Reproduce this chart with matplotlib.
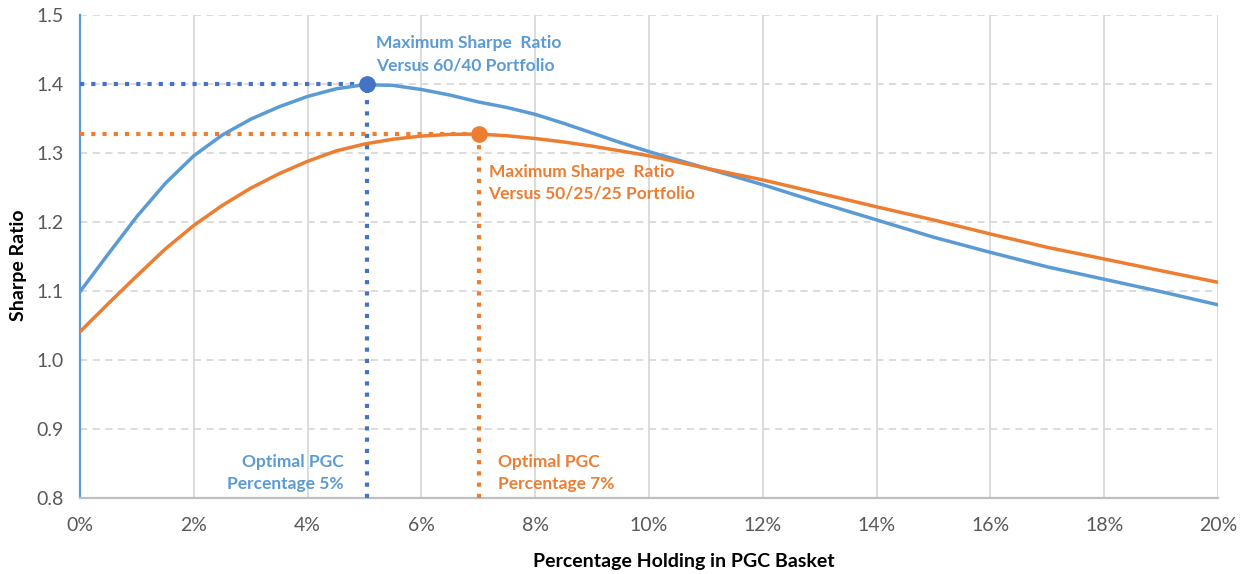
import matplotlib
matplotlib.use("Agg")
import matplotlib.pyplot as plt
from matplotlib.ticker import FuncFormatter

# ---- data ----
holding_pct = [0, 0.5, 1, 1.5, 2, 2.5, 3, 3.5, 4, 4.5, 5, 5.5, 6, 6.5, 7, 7.5, 8, 8.5, 9, 9.5,
               10, 11, 12, 13, 14, 15, 16, 17, 18, 19, 20]
sharpe_6040 = [1.099, 1.154, 1.208, 1.256, 1.296, 1.326, 1.349, 1.367, 1.382, 1.393, 1.399,
               1.398, 1.392, 1.384, 1.374, 1.366, 1.356, 1.343, 1.329, 1.315,
               1.302, 1.278, 1.254, 1.228, 1.203, 1.178, 1.156, 1.135, 1.117, 1.099, 1.080]
sharpe_502525 = [1.041, 1.082, 1.122, 1.161, 1.195, 1.224, 1.249, 1.270, 1.288, 1.303, 1.313,
                 1.320, 1.3245, 1.327, 1.3275, 1.325, 1.321, 1.316, 1.310, 1.303,
                 1.296, 1.278, 1.261, 1.2416, 1.222, 1.203, 1.1826, 1.1633, 1.1464, 1.1294, 1.1126]
opt_6040 = (5.05, 1.40)
opt_502525 = (7.02, 1.3275)
x_ticks = [0, 2, 4, 6, 8, 10, 12, 14, 16, 18, 20]
y_ticks = [0.8, 0.9, 1.0, 1.1, 1.2, 1.3, 1.4, 1.5]

BLUE = "#5B9BD5"
DBLUE = "#4472C4"
ORANGE = "#ED7D31"
GRID = "#D9D9D9"
TICKC = "#595959"

plt.rcParams['font.family'] = ['Lato', 'DejaVu Sans']

fig = plt.figure(figsize=(12.4, 5.74), dpi=100)
ax = fig.add_axes([80/1240, 76/574, 1138/1240, 483/574])

ax.set_xlim(0, 20)
ax.set_ylim(0.8, 1.5)
ax.set_xticks(x_ticks)
ax.set_yticks(y_ticks)
ax.xaxis.set_major_formatter(FuncFormatter(lambda v, p: f"{int(round(v))}%"))
ax.yaxis.set_major_formatter(FuncFormatter(lambda v, p: f"{v:.1f}"))

# grid
for yv in y_ticks[1:]:
    ax.axhline(yv, color=GRID, lw=1.3, ls=(0, (4, 3)), zorder=0)
for xv in x_ticks[1:]:
    ax.axvline(xv, color=GRID, lw=1.3, zorder=0)

for s in ["top", "right"]:
    ax.spines[s].set_visible(False)
ax.spines["left"].set_color(BLUE)
ax.spines["left"].set_linewidth(1.6)
ax.spines["bottom"].set_color("#BFBFBF")
ax.spines["bottom"].set_linewidth(1.6)
ax.tick_params(length=0, labelsize=14, colors=TICKC, pad=14)
ax.tick_params(axis="y", pad=12)

# dotted reference lines
dot = (0, (1, 1.7))
ax.plot([0, opt_6040[0]], [opt_6040[1], opt_6040[1]], color=DBLUE, lw=3.0, ls=dot, zorder=3)
ax.plot([opt_6040[0], opt_6040[0]], [0.8, opt_6040[1]], color=DBLUE, lw=3.0, ls=dot, zorder=3)
ax.plot([0, opt_502525[0]], [opt_502525[1], opt_502525[1]], color=ORANGE, lw=3.0, ls=dot, zorder=3)
ax.plot([opt_502525[0], opt_502525[0]], [0.8, opt_502525[1]], color=ORANGE, lw=3.0, ls=dot, zorder=3)

# curves
ax.plot(holding_pct, sharpe_6040, color=BLUE, lw=2.5, zorder=4, solid_joinstyle="round")
ax.plot(holding_pct, sharpe_502525, color=ORANGE, lw=2.5, zorder=4, solid_joinstyle="round")

ax.plot([opt_6040[0]], [opt_6040[1]], "o", color=DBLUE, ms=11, zorder=5, clip_on=False)
ax.plot([opt_502525[0]], [opt_502525[1]], "o", color=ORANGE, ms=11, zorder=5, clip_on=False)

# annotations
fs = 12.5
ls_ = 1.45
ax.text(5.2, 1.443, "Maximum Sharpe  Ratio\nVersus 60/40 Portfolio", color=BLUE, fontsize=fs,
        fontweight="bold", ha="left", va="center", linespacing=ls_)
ax.text(7.18, 1.2565, "Maximum Sharpe  Ratio\nVersus 50/25/25 Portfolio", color=ORANGE, fontsize=fs,
        fontweight="bold", ha="left", va="center", linespacing=ls_)
ax.text(4.63, 0.836, "Optimal PGC\nPercentage 5%", color=BLUE, fontsize=fs,
        fontweight="bold", ha="right", va="center", linespacing=ls_, multialignment="right")
ax.text(7.35, 0.836, "Optimal PGC\nPercentage 7%", color=ORANGE, fontsize=fs,
        fontweight="bold", ha="left", va="center", linespacing=ls_)

ax.set_xlabel("Percentage Holding in PGC Basket", fontsize=14, fontweight="bold", color="black")
ax.xaxis.set_label_coords((684 - 80) / 1138, -(562 - 498) / 483)
ax.set_ylabel("Sharpe Ratio", fontsize=14, fontweight="bold", color="black")
ax.yaxis.set_label_coords(-(80 - 19) / 1138, (498 - 265) / 483)
ax.xaxis.label.set_va("center")
ax.yaxis.label.set_va("center")

fig.savefig("out.png", dpi=100)
